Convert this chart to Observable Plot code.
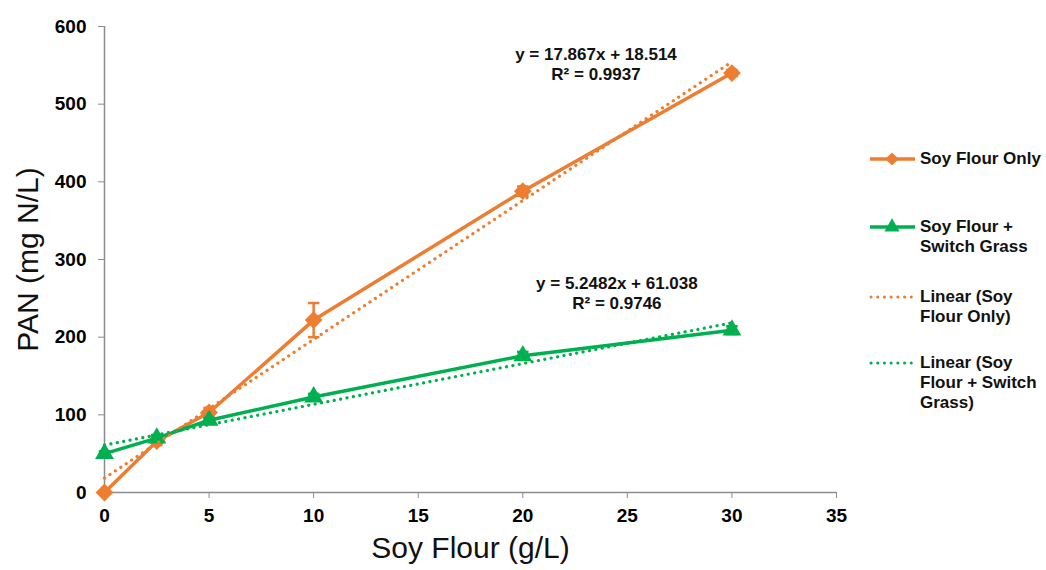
<!DOCTYPE html>
<html>
<head>
<meta charset="utf-8">
<script src="https://cdn.jsdelivr.net/npm/d3@7"></script>
<script src="https://cdn.jsdelivr.net/npm/@observablehq/plot@0.6"></script>
<style>
  html, body { margin: 0; padding: 0; background: #fff; }
  #wrap { position: relative; width: 1046px; height: 570px; font-family: "Liberation Sans", Arial, sans-serif; }
  #legend { position: absolute; left: 868px; top: 0; width: 178px; }
  .item { position: absolute; left: 0; display: flex; align-items: flex-start; }
  .item svg { flex: none; margin-top: 1px; }
  .item span { font-weight: bold; font-size: 17px; line-height: 20px; color: #111; margin-left: 4px; white-space: pre; }
</style>
</head>
<body>
<div id="wrap"></div>
<script>
// ---- data ----
const xVals = [0, 2.5, 5, 10, 20, 30];
const soyOnly = [0, 66, 103, 222, 388, 540];
const soyOnlyErr = [0, 5, 6, 22, 6, 4];
const soyGrass = [50, 70, 93, 123, 176, 209];
const soyGrassErr = [3, 4, 3, 4, 5, 5];
const seriesNames = ["Soy Flour Only", "Soy Flour +\nSwitch Grass"];
const trendNames = ["Linear (Soy\nFlour Only)", "Linear (Soy\nFlour + Switch\nGrass)"];
const trendSlopes = [17.867, 5.2482];
const trendIntercepts = [18.514, 61.038];
const trendR2 = ["0.9937", "0.9746"];
const trendRange = [0, 30];
const xTicks = [0, 5, 10, 15, 20, 25, 30, 35];
const yTicks = [0, 100, 200, 300, 400, 500, 600];
const eqLabelX = [23.5, 24.5];
const eqLabelY = [552, 258];

const colors = ["#ED7D31", "#00B050"];
const symbols = ["diamond2", "triangle"];

const series = [soyOnly, soyGrass].map((ys, s) => xVals.map((x, i) => ({
  x, y: ys[i], e: [soyOnlyErr, soyGrassErr][s][i], s
})));
const trends = trendSlopes.map((m, s) => trendRange.map(x => ({x, y: m * x + trendIntercepts[s], s})));
const eqs = trendSlopes.map((m, s) => ({
  x: eqLabelX[s], y: eqLabelY[s],
  text: `y = ${m}x + ${trendIntercepts[s]}\nR² = ${trendR2[s]}`
}));

const capSymbol = { draw(ctx, size) { const w = Math.sqrt(size); ctx.moveTo(-w / 2, 0); ctx.lineTo(w / 2, 0); } };

const marks = [
  Plot.ruleY([0], {stroke: "#8c8c8c", strokeWidth: 1.5}),
  Plot.ruleX([0], {stroke: "#8c8c8c", strokeWidth: 1.5}),
  Plot.axisX({ticks: xTicks, tickSize: 6, tickPadding: 10, stroke: "#8c8c8c", fill: "#000", label: null, tickFormat: d => d}),
  Plot.axisY({ticks: yTicks, tickSize: 6, tickPadding: 12, stroke: "#8c8c8c", fill: "#000", label: null, tickFormat: d => d}),
  Plot.text(["PAN (mg N/L)"], {frameAnchor: "left", textAnchor: "middle", lineAnchor: "middle", rotate: -90, dx: -76.5, fontSize: 30, fontWeight: "normal", fill: "#111"}),
  Plot.text(["Soy Flour (g/L)"], {frameAnchor: "bottom", textAnchor: "middle", lineAnchor: "middle", dy: 55.5, fontSize: 30, fontWeight: "normal", fill: "#111"}),
];
series.forEach((data, s) => {
  marks.push(
    Plot.ruleX(data.filter(d => d.e > 0), {x: "x", y1: d => d.y - d.e, y2: d => d.y + d.e, stroke: colors[s], strokeWidth: 2.5}),
    Plot.dot(data.filter(d => d.e > 0), {x: "x", y: d => d.y + d.e, symbol: capSymbol, r: 6.5, stroke: colors[s], strokeWidth: 2.5}),
    Plot.dot(data.filter(d => d.e > 0), {x: "x", y: d => d.y - d.e, symbol: capSymbol, r: 6.5, stroke: colors[s], strokeWidth: 2.5}),
    Plot.line(data, {x: "x", y: "y", stroke: colors[s], strokeWidth: 3.5}),
    Plot.dot(data, {x: "x", y: "y", symbol: symbols[s], r: s === 0 ? 8 : 7, fill: colors[s], stroke: null})
  );
});
trends.forEach((data, s) => {
  marks.push(Plot.line(data, {x: "x", y: "y", stroke: colors[s], strokeWidth: 3.2, strokeDasharray: "0.1 6.4", strokeLinecap: "round"}));
});
marks.push(Plot.text(eqs, {x: "x", y: "y", text: "text", fontSize: 17, fontWeight: "bold", fill: "#111", lineHeight: 1.18}));

const chart = Plot.plot({
  width: 1046,
  height: 570,
  marginLeft: 104,
  marginRight: 210,
  marginTop: 26,
  marginBottom: 78,
  style: {fontFamily: "'Liberation Sans', Arial, sans-serif", background: "#fff", overflow: "visible"},
  x: {domain: [0, 35]},
  y: {domain: [0, 600]},
  marks
});

// enlarge and embolden the tick labels
d3.select(chart).selectAll("g")
  .filter(function () { return (this.getAttribute("aria-label") || "").includes("tick label"); })
  .style("font-size", "19px").style("font-weight", "bold")
  .selectAll("text").style("font-size", "19px").style("font-weight", "bold");

const wrap = document.getElementById("wrap");
wrap.appendChild(chart);

// ---- legend ----
const legend = document.createElement("div");
legend.id = "legend";
const entries = [
  {name: seriesNames[0], color: colors[0], kind: "line", sym: "diamond"},
  {name: seriesNames[1], color: colors[1], kind: "line", sym: "triangle"},
  {name: trendNames[0], color: colors[0], kind: "dot"},
  {name: trendNames[1], color: colors[1], kind: "dot"}
];
const tops = [149, 217, 287, 353];
entries.forEach((e, i) => {
  const item = document.createElement("div");
  item.className = "item";
  item.style.top = tops[i] + "px";
  const svg = d3.create("svg").attr("width", 48).attr("height", 18);
  if (e.kind === "line") {
    svg.append("line").attr("x1", 2).attr("x2", 47).attr("y1", 9).attr("y2", 9).attr("stroke", e.color).attr("stroke-width", 3.5);
    const symType = e.sym === "diamond" ? d3.symbolDiamond2 : d3.symbolTriangle;
    svg.append("path").attr("d", d3.symbol(symType, e.sym === "diamond" ? 110 : 100)()).attr("transform", "translate(24,9)").attr("fill", e.color);
  } else {
    svg.append("line").attr("x1", 3).attr("x2", 44).attr("y1", 9).attr("y2", 9).attr("stroke", e.color).attr("stroke-width", 3).attr("stroke-dasharray", "0.1 6.6").attr("stroke-linecap", "round");
  }
  item.appendChild(svg.node());
  const span = document.createElement("span");
  span.textContent = e.name;
  item.appendChild(span);
  legend.appendChild(item);
});
wrap.appendChild(legend);
</script>
</body>
</html>
